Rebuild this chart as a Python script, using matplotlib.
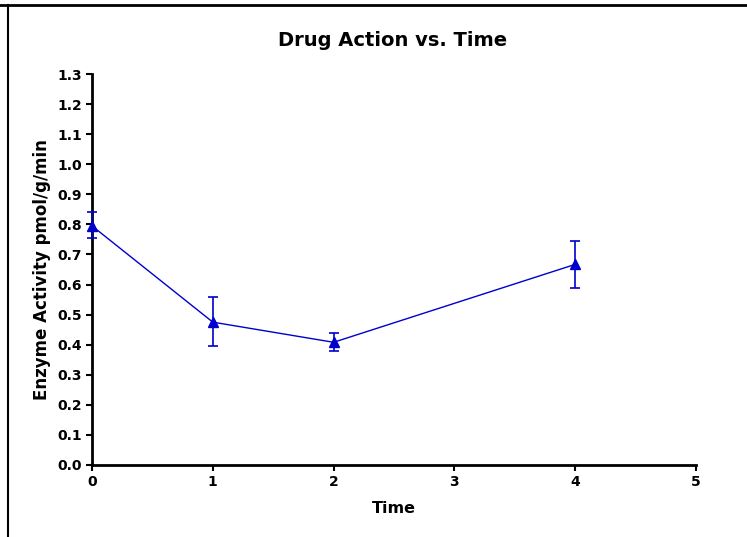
import matplotlib
matplotlib.use("Agg")
import matplotlib.pyplot as plt
from matplotlib.lines import Line2D

# Enzyme activity measured at each time point (mean and error bar limits)
time = [0, 1, 2, 4]
activity = [0.795, 0.475, 0.408, 0.667]
err_low = [0.755, 0.396, 0.380, 0.590]
err_high = [0.841, 0.559, 0.440, 0.745]

yerr = [
    [a - lo for a, lo in zip(activity, err_low)],
    [hi - a for a, hi in zip(activity, err_high)],
]

plt.rcParams["font.family"] = ["DejaVu Sans"]
plt.rcParams["font.weight"] = "bold"

fig = plt.figure(figsize=(7.47, 5.37), dpi=100)
ax = fig.add_axes([92 / 747, 72 / 537, 604 / 747, 391 / 537])

blue = "#0000cc"
ax.errorbar(
    time, activity, yerr=yerr,
    color=blue, linewidth=1.0, elinewidth=1.2, capsize=3.8, capthick=1.2,
    marker="^", markersize=7.5, clip_on=False, zorder=3,
)

ax.set_xlim(0, 5)
ax.set_ylim(0, 1.3)
ax.set_xticks([0, 1, 2, 3, 4, 5])
ax.set_yticks([i / 10 for i in range(14)])
ax.set_yticklabels([f"{i / 10:.1f}" for i in range(14)])

for side in ("top", "right"):
    ax.spines[side].set_visible(False)
for side in ("left", "bottom"):
    ax.spines[side].set_linewidth(2)
ax.tick_params(direction="out", length=4, width=1.5, labelsize=10, pad=3)

fig.text(393 / 747, 1 - 40 / 537, "Drug Action vs. Time", fontsize=14,
         fontweight="bold", ha="center", va="center")
ax.set_xlabel("Time", fontsize=11.5, fontweight="bold", labelpad=9)
ax.set_ylabel("Enzyme Activity pmol/g/min", fontsize=12, fontweight="bold", labelpad=5)

# outer frame lines along the top and left edge
fig.add_artist(Line2D([0, 1], [1 - 5 / 537, 1 - 5 / 537], transform=fig.transFigure,
                      color="black", linewidth=2))
fig.add_artist(Line2D([8 / 747, 8 / 747], [0, 1 - 5 / 537], transform=fig.transFigure,
                      color="black", linewidth=1.5))

fig.savefig("out.png", dpi=100)
